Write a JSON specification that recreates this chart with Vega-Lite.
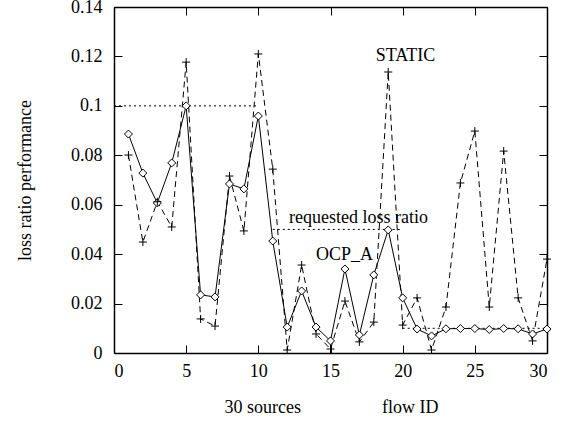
{
  "$schema": "https://vega.github.io/schema/vega-lite/v6.json",
  "width": 433,
  "height": 346,
  "autosize": {"type": "none"},
  "padding": {"left": 114, "top": 7, "right": 21, "bottom": 68},
  "background": "white",
  "config": {
    "view": {"stroke": null},
    "font": "Liberation Serif",
    "axis": {
      "labelFont": "Liberation Serif",
      "labelFontSize": 18,
      "labelColor": "black",
      "titleFont": "Liberation Serif",
      "titleFontSize": 18,
      "titleFontWeight": "normal",
      "titleColor": "black",
      "domainColor": "black",
      "domainWidth": 1.5,
      "tickColor": "black",
      "tickWidth": 1,
      "tickSize": -8,
      "grid": false
    }
  },
  "datasets": {
    "perf": [
      {"flow": 1, "OCP_A": 0.0886, "STATIC": 0.0801},
      {"flow": 2, "OCP_A": 0.0728, "STATIC": 0.0449},
      {"flow": 3, "OCP_A": 0.0607, "STATIC": 0.0612},
      {"flow": 4, "OCP_A": 0.0769, "STATIC": 0.051},
      {"flow": 5, "OCP_A": 0.1, "STATIC": 0.1177},
      {"flow": 6, "OCP_A": 0.0235, "STATIC": 0.0138},
      {"flow": 7, "OCP_A": 0.0227, "STATIC": 0.0109},
      {"flow": 8, "OCP_A": 0.0684, "STATIC": 0.0716},
      {"flow": 9, "OCP_A": 0.0664, "STATIC": 0.0494},
      {"flow": 10, "OCP_A": 0.0959, "STATIC": 0.121},
      {"flow": 11, "OCP_A": 0.0453, "STATIC": 0.0744},
      {"flow": 12, "OCP_A": 0.0105, "STATIC": 0.0012},
      {"flow": 13, "OCP_A": 0.0251, "STATIC": 0.0356},
      {"flow": 14, "OCP_A": 0.0105, "STATIC": 0.0077},
      {"flow": 15, "OCP_A": 0.0049, "STATIC": 0.0016},
      {"flow": 16, "OCP_A": 0.034, "STATIC": 0.021},
      {"flow": 17, "OCP_A": 0.0073, "STATIC": 0.0045},
      {"flow": 18, "OCP_A": 0.0316, "STATIC": 0.0125},
      {"flow": 19, "OCP_A": 0.0498, "STATIC": 0.1137},
      {"flow": 20, "OCP_A": 0.0223, "STATIC": 0.0113},
      {"flow": 21, "OCP_A": 0.0097, "STATIC": 0.0223},
      {"flow": 22, "OCP_A": 0.0069, "STATIC": 0.0012},
      {"flow": 23, "OCP_A": 0.0098, "STATIC": 0.0186},
      {"flow": 24, "OCP_A": 0.0099, "STATIC": 0.0688},
      {"flow": 25, "OCP_A": 0.0099, "STATIC": 0.0898},
      {"flow": 26, "OCP_A": 0.0095, "STATIC": 0.0186},
      {"flow": 27, "OCP_A": 0.0099, "STATIC": 0.0817},
      {"flow": 28, "OCP_A": 0.0098, "STATIC": 0.0223},
      {"flow": 29, "OCP_A": 0.0077, "STATIC": 0.0049},
      {"flow": 30, "OCP_A": 0.0097, "STATIC": 0.038}
    ],
    "req": [
      {"seg": "a", "flow": 0, "requested": 0.1},
      {"seg": "a", "flow": 10, "requested": 0.1},
      {"seg": "b", "flow": 11, "requested": 0.05},
      {"seg": "b", "flow": 20, "requested": 0.05},
      {"seg": "c", "flow": 20, "requested": 0.01},
      {"seg": "c", "flow": 30, "requested": 0.01}
    ],
    "labels": [
      {"label": "STATIC", "lx": 20.2, "ly": 0.12},
      {"label": "requested loss ratio", "lx": 16.94, "ly": 0.0546},
      {"label": "OCP_A", "lx": 15.97, "ly": 0.0397}
    ]
  },
  "layer": [
    {
      "data": {"name": "req"},
      "mark": {"type": "line", "color": "black", "strokeWidth": 1, "strokeDash": [2, 3]},
      "encoding": {
        "x": {"field": "flow", "type": "quantitative", "scale": {"domain": [0, 30], "nice": false},
              "axis": {"orient": "top", "labels": false, "title": null, "values": [0, 5, 10, 15, 20, 25, 30]}},
        "y": {"field": "requested", "type": "quantitative", "scale": {"domain": [0, 0.14], "nice": false},
              "axis": {"orient": "right", "labels": false, "title": null, "values": [0, 0.02, 0.04, 0.06, 0.08, 0.1, 0.12, 0.14]}},
        "detail": {"field": "seg"}
      }
    },
    {
      "data": {"name": "perf"},
      "mark": {"type": "line", "color": "black", "strokeWidth": 1, "strokeDash": [6, 4]},
      "encoding": {
        "x": {"field": "flow", "type": "quantitative",
              "axis": {"orient": "bottom", "values": [0, 5, 10, 15, 20, 25, 30], "labelPadding": 17,
                       "title": "30 sources\u00a0\u00a0\u00a0\u00a0\u00a0\u00a0\u00a0\u00a0\u00a0\u00a0\u00a0\u00a0\u00a0\u00a0\u00a0\u00a0\u00a0\u00a0flow ID",
                       "titleX": 217, "titleY": 54, "titleBaseline": "middle", "titleAlign": "center", "titleAnchor": null}},
        "y": {"field": "STATIC", "type": "quantitative",
              "axis": {"orient": "left", "values": [0, 0.02, 0.04, 0.06, 0.08, 0.1, 0.12, 0.14], "format": "~g", "labelPadding": 20,
                       "title": "loss ratio performance", "titleAngle": -90, "titleX": -89, "titleY": 173,
                       "titleBaseline": "middle", "titleAlign": "center", "titleAnchor": null}}
      }
    },
    {
      "data": {"name": "perf"},
      "mark": {"type": "line", "color": "black", "strokeWidth": 1},
      "encoding": {
        "x": {"field": "flow", "type": "quantitative", "axis": null},
        "y": {"field": "OCP_A", "type": "quantitative", "axis": null}
      }
    },
    {
      "data": {"name": "perf"},
      "mark": {"type": "point", "shape": "diamond", "size": 64, "filled": true, "fill": "white", "stroke": "black", "strokeWidth": 1, "opacity": 1},
      "encoding": {
        "x": {"field": "flow", "type": "quantitative", "axis": null},
        "y": {"field": "OCP_A", "type": "quantitative", "axis": null}
      }
    },
    {
      "data": {"name": "perf"},
      "mark": {"type": "point", "shape": "M-1,0L1,0M0,-1L0,1", "size": 64, "filled": false, "stroke": "black", "strokeWidth": 1, "opacity": 1},
      "encoding": {
        "x": {"field": "flow", "type": "quantitative", "axis": null},
        "y": {"field": "STATIC", "type": "quantitative", "axis": null}
      }
    },
    {
      "data": {"name": "labels"},
      "mark": {"type": "text", "font": "Liberation Serif", "fontSize": 18, "color": "black", "align": "center", "baseline": "middle"},
      "encoding": {
        "x": {"field": "lx", "type": "quantitative", "axis": null},
        "y": {"field": "ly", "type": "quantitative", "axis": null},
        "text": {"field": "label"}
      }
    }
  ],
  "resolve": {"axis": {"x": "independent", "y": "independent"}}
}
